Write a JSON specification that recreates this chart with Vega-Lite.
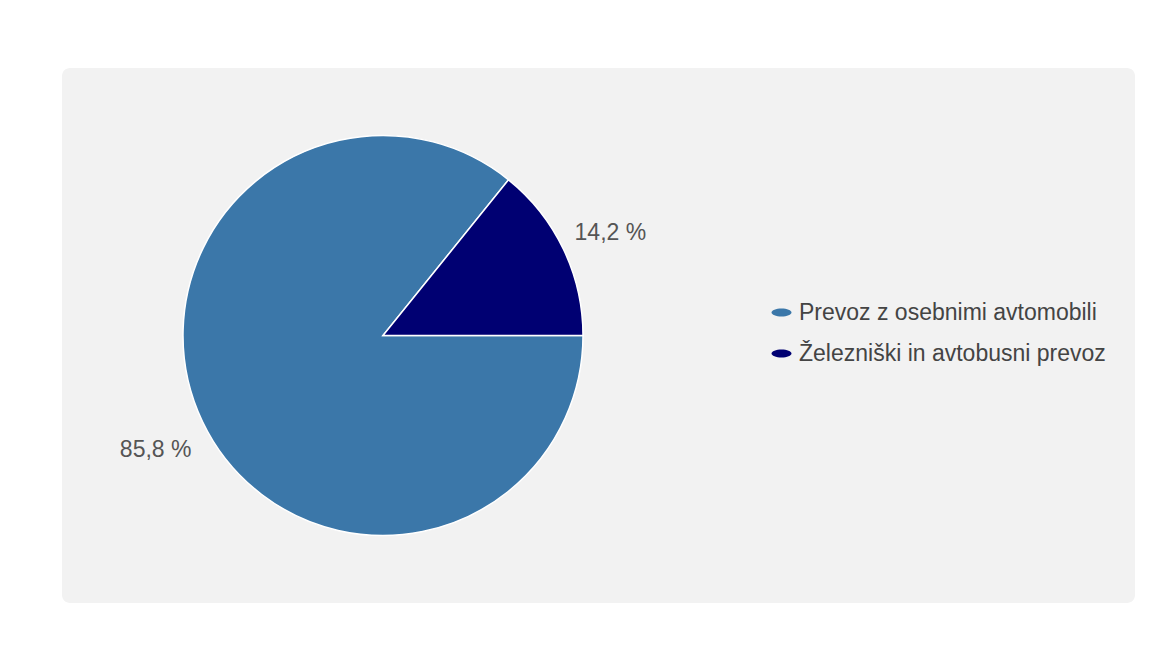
{
  "$schema": "https://vega.github.io/schema/vega-lite/v6.json",
  "width": 1073,
  "height": 535,
  "autosize": {"type": "none"},
  "padding": {"left": 62, "top": 68, "right": 39, "bottom": 45},
  "background": "white",
  "view": {"fill": "#f2f2f2", "stroke": null, "cornerRadius": 8},
  "data": {
    "values": [
      {"kategorija": "Prevoz z osebnimi avtomobili", "delez": 85.8, "oznaka": "85,8 %", "red": 1},
      {"kategorija": "Železniški in avtobusni prevoz", "delez": 14.2, "oznaka": "14,2 %", "red": 2}
    ]
  },
  "encoding": {
    "theta": {"field": "delez", "type": "quantitative", "stack": true, "scale": {"range": [1.5708, 7.854]}},
    "order": {"field": "red", "type": "quantitative"},
    "x": {"value": 321}
  },
  "layer": [
    {
      "mark": {"type": "arc", "outerRadius": 200, "stroke": "white", "strokeWidth": 1.5},
      "encoding": {
        "color": {
          "field": "kategorija",
          "type": "nominal",
          "scale": {
            "domain": ["Prevoz z osebnimi avtomobili", "Železniški in avtobusni prevoz"],
            "range": ["#3b77a9", "#000072"]
          },
          "legend": {
            "orient": "none",
            "legendX": 708,
            "legendY": 233,
            "title": null,
            "padding": 0,
            "symbolType": "M-1,0A1,0.4 0 1,0 1,0A1,0.4 0 1,0 -1,0Z",
            "symbolSize": 400,
            "symbolStrokeWidth": 0,
            "labelFontSize": 23,
            "labelFont": "Liberation Sans",
            "labelColor": "#444444",
            "labelOffset": 6,
            "labelLimit": 0,
            "rowPadding": 17
          }
        }
      }
    },
    {
      "mark": {"type": "text", "radius": 252, "dy": 6, "fontSize": 23, "font": "Liberation Sans", "align": "center", "baseline": "middle"},
      "encoding": {
        "text": {"field": "oznaka", "type": "nominal"},
        "detail": {"field": "kategorija", "type": "nominal"},
        "color": {"value": "#555555"}
      }
    }
  ]
}
